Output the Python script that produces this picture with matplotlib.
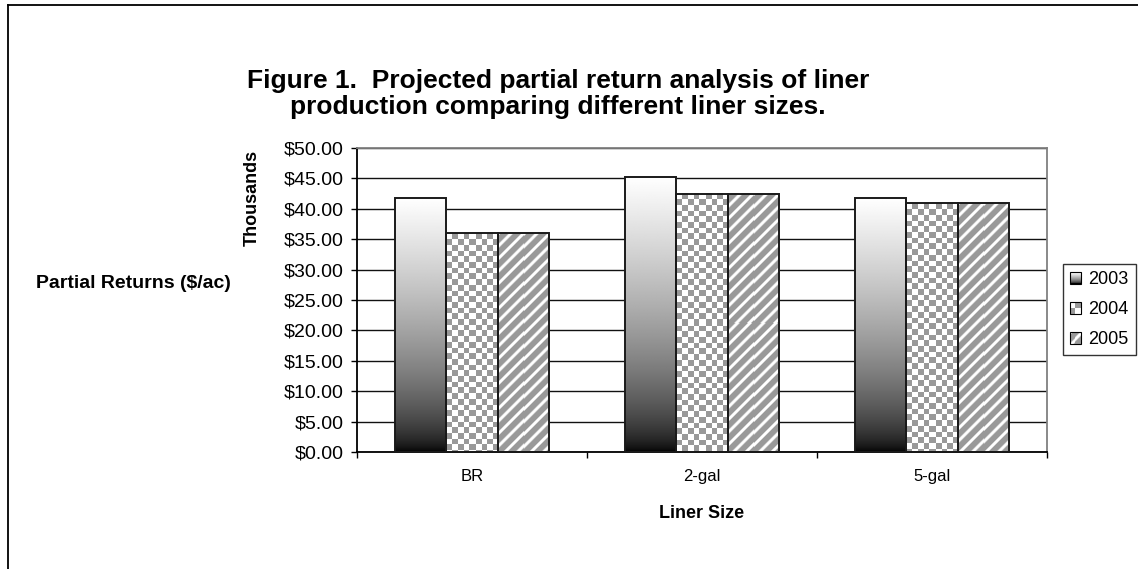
import matplotlib
matplotlib.use("Agg")

import matplotlib.pyplot as plt
import numpy as np
from matplotlib.colors import Normalize
from matplotlib.image import BboxImage
from matplotlib.lines import Line2D
from matplotlib.patches import Patch, Rectangle
from matplotlib.ticker import FuncFormatter
from matplotlib.transforms import Bbox, TransformedBbox

# partial returns, thousands of $/ac
liner_sizes = ["BR", "2-gal", "5-gal"]
years = ["2003", "2004", "2005"]
returns_2003 = [41.85, 45.2, 41.85]
returns_2004 = [36.0, 42.5, 40.9]
returns_2005 = [36.0, 42.5, 40.9]
y_ticks = [0, 5, 10, 15, 20, 25, 30, 35, 40, 45, 50]

W, H = 1138, 569
plt.rcParams["font.family"] = ["Liberation Sans", "DejaVu Sans"]


def gradient_fill(h, w):
    t = np.linspace(1.0, 0.0, max(h, 2))[:, None]
    return np.repeat(t ** 0.6, max(w, 1), axis=1)


def checker_fill(h, w, cell=5.7):
    yy, xx = np.mgrid[0:max(h, 1), 0:max(w, 1)]
    on = ((xx // cell).astype(int) + (yy // cell).astype(int)) % 2
    return np.where(on == 1, 0.6, 1.0)


def stripe_fill(h, w, period=12.5, gray=0.6):
    yy, xx = np.mgrid[0:max(h, 1), 0:max(w, 1)]
    phase = np.mod(xx + yy, period)
    d = np.minimum(phase, period - phase)
    white = np.clip(1.0 - (d - 1.2) / 1.8, 0.0, 1.0)
    return gray + (1.0 - gray) * white


class SwatchHandler:
    """Legend key drawn as a small bitmap of the bar fill."""

    def legend_artist(self, legend, orig_handle, fontsize, handlebox):
        x0, y0 = -handlebox.xdescent, -handlebox.ydescent
        w, h = handlebox.width, handlebox.height
        trans = handlebox.get_transform()
        img = BboxImage(TransformedBbox(Bbox.from_bounds(x0, y0, w, h), trans),
                        cmap="gray", norm=Normalize(0, 1), interpolation="nearest")
        img.set_data(orig_handle.fill_func(12, 12))
        handlebox.add_artist(img)
        frame = Rectangle((x0, y0), w, h, fill=False, edgecolor="black", lw=0.8,
                          transform=trans)
        handlebox.add_artist(frame)
        return frame


fig = plt.figure(figsize=(W / 100, H / 100), dpi=100)
left, right, top, bottom = 357, 1047, 148, 452
ax = fig.add_axes([left / W, 1 - bottom / H, (right - left) / W, (bottom - top) / H])

x = np.arange(1, len(liner_sizes) + 1)
bar_w = 0.222
series = [returns_2003, returns_2004, returns_2005]
fills = [gradient_fill, checker_fill, stripe_fill]

px_x = (right - left) / 3.0
px_y = (bottom - top) / 50.0

for i, (vals, fill) in enumerate(zip(series, fills)):
    bars = ax.bar(x + (i - 1) * bar_w, vals, bar_w, facecolor="none",
                  edgecolor="#1a1a1a", lw=1.4, zorder=3)
    for b in bars:
        x0, w, h = b.get_x(), b.get_width(), b.get_height()
        arr = fill(int(round(h * px_y)), int(round(w * px_x)))
        ax.imshow(arr, extent=(x0, x0 + w, 0, h), origin="upper", cmap="gray",
                  vmin=0, vmax=1, aspect="auto", zorder=2,
                  interpolation="bilinear" if fill is gradient_fill else "nearest")

ax.set_xlim(0.5, 3.5)
ax.set_ylim(0, 50)
ax.set_yticks(y_ticks)
ax.yaxis.set_major_formatter(FuncFormatter(lambda v, _: f"${v:.2f}"))
ax.yaxis.grid(True, color="#111111", lw=1.0)
ax.set_axisbelow(True)

ax.set_xticks([0.5, 1.5, 2.5, 3.5])
ax.set_xticklabels([])
ax.set_xticks(x, minor=True)
ax.set_xticklabels(liner_sizes, minor=True)
ax.tick_params(axis="x", which="major", direction="out", length=4.5, width=1.0)
ax.tick_params(axis="x", which="minor", length=0, pad=12, labelsize=12)
ax.tick_params(axis="y", direction="out", length=4.5, width=1.0, pad=5, labelsize=14)

for side in ("left", "bottom"):
    ax.spines[side].set_color("black")
    ax.spines[side].set_linewidth(1.3)
for side in ("top", "right"):
    ax.spines[side].set_color("#808080")
    ax.spines[side].set_linewidth(1.3)

ax.set_xlabel("Liner Size", fontsize=13, fontweight="bold")
ax.xaxis.set_label_coords(0.5, -(505 - bottom) / (bottom - top))
ax.set_ylabel("Partial Returns ($/ac)", fontsize=14, fontweight="bold",
              rotation=0, ha="center", va="center")
ax.yaxis.set_label_coords((133 - left) / (right - left), (bottom - 283) / (bottom - top))

fig.text(252 / W, 1 - 150 / H, "Thousands", rotation=90, ha="center", va="top",
         fontsize=13, fontweight="bold")

fig.text(558 / W, 1 - 94 / H,
         "Figure 1.  Projected partial return analysis of liner\n"
         "production comparing different liner sizes.",
         ha="center", va="center", fontsize=19, fontweight="bold", linespacing=1.1)

# chart area border
fig.add_artist(Line2D([8 / W, 8 / W], [0, 1 - 5 / H], transform=fig.transFigure,
                      color="black", lw=1.3))
fig.add_artist(Line2D([8 / W, 1], [1 - 5 / H, 1 - 5 / H], transform=fig.transFigure,
                      color="black", lw=1.3))

handles = []
for yr, f in zip(years, fills):
    p = Patch(label=yr)
    p.fill_func = f
    handles.append(p)
leg = fig.legend(handles, years, loc="upper left", bbox_to_anchor=(1063 / W, 1 - 264 / H),
                 handler_map={Patch: SwatchHandler()}, frameon=True, fancybox=False,
                 edgecolor="black", handlelength=0.6, handleheight=0.6, handletextpad=0.4,
                 labelspacing=0.72, borderpad=0.4, borderaxespad=0, fontsize=13)
leg.get_frame().set_linewidth(1.0)

fig.savefig("out.png", dpi=100)
